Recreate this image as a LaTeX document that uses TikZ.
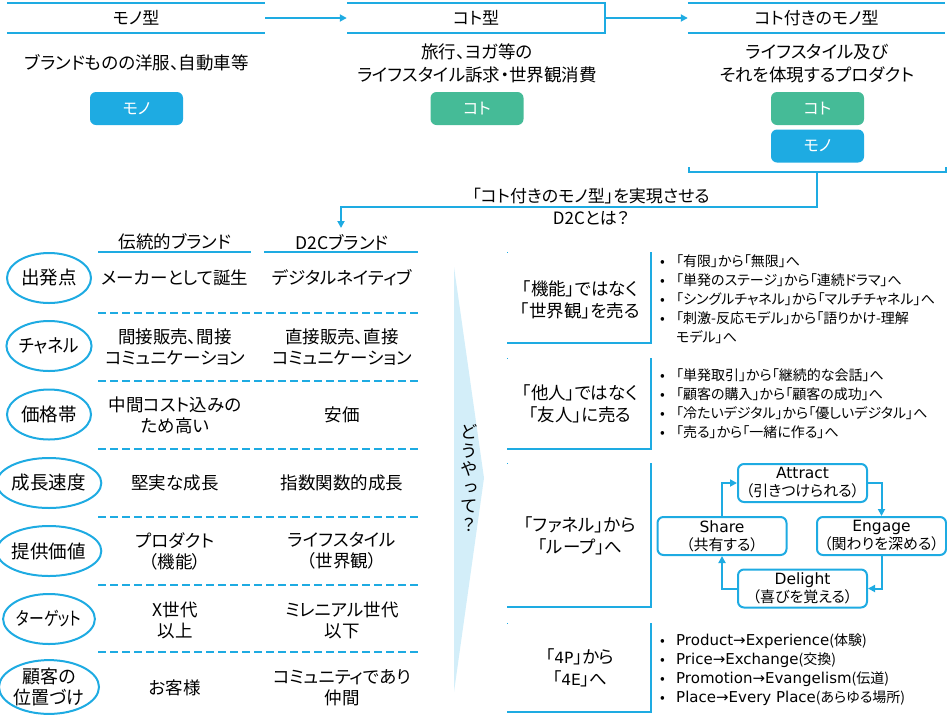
\documentclass[tikz,border=0pt]{standalone}
\usepackage{fontspec}
\usepackage{graphicx}
\setmainfont{Noto Sans CJK JP}[RawFeature=+palt]
\newfontfamily\lat{DejaVu Sans}
\newfontfamily\vertfont{Noto Sans CJK JP}[RawFeature=+vert]
\usetikzlibrary{arrows.meta,shapes.geometric}
\definecolor{cblue}{HTML}{1EABE2}
\definecolor{cgreen}{HTML}{45BB97}
\definecolor{cfill}{HTML}{D3EEF9}
\tikzset{
  bl/.style={draw=cblue,line width=2pt},
  arr/.style={draw=cblue,line width=2pt,-{Triangle[length=7pt,width=7pt]}},
  hdr/.style={minimum width=258pt,minimum height=30pt,inner sep=0pt,font=\fontsize{17}{20}\selectfont},
  toptxt/.style={align=center,inner sep=0pt,font=\fontsize{17.5}{23}\selectfont},
  pill/.style={fill=#1,rounded corners=6pt,minimum width=93pt,minimum height=33pt,inner sep=0pt,text=white,font=\fontsize{16}{19}\selectfont},
  oval/.style={ellipse,draw=cblue,line width=2pt,minimum width=84pt,minimum height=50pt,inner sep=0pt,align=center,font=\fontsize{18.5}{21}\selectfont},
  cell/.style={align=center,inner sep=0pt,font=\fontsize{17.5}{21}\selectfont},
  colhd/.style={inner sep=0pt,font=\fontsize{17.5}{21}\selectfont},
  sep/.style={draw=cblue,line width=2pt,dash pattern=on 8pt off 4pt},
  blab/.style={align=center,inner sep=0pt,font=\fontsize{17.5}{22}\selectfont},
  blist/.style={align=left,inner sep=0pt,anchor=west,font=\fontsize{14}{19}\selectfont},
  loopbox/.style={draw=cblue,line width=2pt,rounded corners=6pt,minimum width=129pt,minimum height=38pt,inner sep=0pt,align=center,font=\fontsize{15}{18}\selectfont},
}
\newcommand\bul{\makebox[16pt][l]{•}}
\newcommand\lw[1]{{\lat\fontsize{15.5}{18}\selectfont #1}}
\newcommand\lb[1]{{\lat\fontsize{15}{19}\selectfont #1}}
\newcommand\sq[2]{\scalebox{#1}[1]{#2}}
\begin{document}
\begin{tikzpicture}[x=1pt,y=-1pt]
\path[use as bounding box] (0,0) rectangle (947,721);
% ---------- top row ----------
\node[hdr] (h1) at (136,18) {モノ型};
\node[hdr] (h2) at (476,18) {コト型};
\node[hdr,minimum width=257pt] (h3) at (816.5,18) {コト付きのモノ型};
\draw[bl] (h1.north west) -- (h1.north east);
\draw[bl] (h1.south west) -- (h1.south east);
\draw[bl] (h2.north west) -- (h2.north east) -- (h2.south east) -- (h2.south west);
\draw[bl] (h3.north west) -- (h3.north east);
\draw[bl] (h3.south west) -- (h3.south east);
\draw[arr] (h1.east) -- (h2.west);
\draw[arr] (h2.east) -- (h3.west);

\node[toptxt] (t1) at (137,63) {ブランドものの洋服、自動車等};
\node[toptxt] (t2) at (477,63.5) {旅行、ヨガ等の\\ライフスタイル訴求・世界観消費};
\node[toptxt] (t3) at (817,63.5) {ライフスタイル及び\\それを体現するプロダクト};

\node[pill=cblue] (m1) at (136.5,108.5) {モノ};
\node[pill=cgreen] (k2) at (477,108.5) {コト};
\node[pill=cgreen] (k3) at (817.5,108.5) {コト};
\node[pill=cblue] (m3) at (817.5,146) {モノ};

\draw[bl] (689,167) -- (689,172) -- (946,172) -- (946,167);
\coordinate (bmid) at (817,172);
\coordinate (tabtop) at (341,228);
\draw[arr] (bmid) -- (817,206.5) -- (341,206.5) -- (tabtop);
\node[align=center,inner sep=0pt,font=\fontsize{17}{22}\selectfont] (q) at (591,207) {「コト付きのモノ型」を実現させる\\D2Cとは？};

% ---------- left table ----------
\node[colhd] (c1) at (175,242) {伝統的ブランド};
\node[colhd] (c2) at (342,242) {D2Cブランド};
\draw[bl] (98,252) -- (251,252);
\draw[bl] (264,252) -- (418,252);

\foreach \y in {313,381,449,517,585,652} {\draw[sep] (98,\y) -- (418,\y);}

\node[oval] (r1) at (49,278) {出発点};
\node[oval] (r2) at (49,346) {\sq{0.9}{チャネル}};
\node[oval] (r3) at (49,414.5) {価格帯};
\node[oval] (r4) at (49,483) {成長速度};
\node[oval] (r5) at (49,551) {提供価値};
\node[oval] (r6) at (49,619) {\sq{0.8}{ターゲット}};
\node[oval] (r7) at (49,687) {\sq{0.97}{顧客の}\\\sq{0.97}{位置づけ}};

\node[cell] (a1) at (175,278) {メーカーとして誕生};
\node[cell] (b1) at (342,278) {デジタルネイティブ};
\node[cell] (a2) at (175,347) {間接販売、間接\\コミュニケーション};
\node[cell] (b2) at (342,347) {直接販売、直接\\コミュニケーション};
\node[cell] (a3) at (175,415) {中間コスト込みの\\ため高い};
\node[cell] (b3) at (342,415) {安価};
\node[cell] (a4) at (175,483) {堅実な成長};
\node[cell] (b4) at (342,483) {指数関数的成長};
\node[cell] (a5) at (175,551) {プロダクト\\（機能）};
\node[cell] (b5) at (342,551) {ライフスタイル\\（世界観）};
\node[cell] (a6) at (175,620) {X世代\\以上};
\node[cell] (b6) at (342,620) {ミレニアル世代\\以下};
\node[cell] (a7) at (175,688) {お客様};
\node[cell] (b7) at (342,688) {コミュニティであり\\仲間};

% ---------- chevron ----------
\fill[cfill] (454,267) -- (484,478) -- (454,692) -- cycle;
\node[align=center,inner sep=0pt,font=\vertfont\fontsize{17.5}{18.5}\selectfont] (how) at (469,478) {ど\\う\\や\\っ\\て\\？};

% ---------- right blocks ----------
\foreach \t/\b in {252/343,358/449,463/607,623/712} {
  \draw[bl] (651,\t) -- (651,\b) -- (507,\b);
  \fill[cblue] (506.5,\t-0.5) rectangle (507.5,\t+0.5);
}
\node[blab] (l1) at (580,300) {「機能」ではなく\\「世界観」を売る};
\node[blab] (l2) at (580,404) {「他人」ではなく\\「友人」に売る};
\node[blab] (l3) at (580,536) {「ファネル」から\\「ループ」へ};
\node[blab] (l4) at (580,668) {「\lw{4P}」から\\「\lw{4E}」へ};

\node[blist] (p1) at (660,299.5) {\bul「有限」から「無限」へ\\\bul「単発のステージ」から「連続ドラマ」へ\\\bul「シングルチャネル」から「マルチチャネル」へ\\\bul「刺激-反応モデル」から「語りかけ-理解\\\hspace*{16pt}モデル」へ};
\node[blist] (p2) at (660,404) {\bul「単発取引」から「継続的な会話」へ\\\bul「顧客の購入」から「顧客の成功」へ\\\bul「冷たいデジタル」から「優しいデジタル」へ\\\bul「売る」から「一緒に作る」へ};
\node[blist] (p4) at (660,669.5) {\bul\lb{Product→Experience}(体験)\\\bul\lb{Price→Exchange}(交換)\\\bul\lb{Promotion→Evangelism}(伝道)\\\bul\lb{Place→Every Place}(あらゆる場所)};

% ---------- loop ----------
\node[loopbox] (att) at (802.5,483) {\lw{Attract}\\（引きつけられる）};
\node[loopbox] (sha) at (722,536) {\lw{Share}\\（共有する）};
\node[loopbox] (eng) at (881.5,536) {\lw{Engage}\\（関わりを深める）};
\node[loopbox] (del) at (802.5,588.5) {\lw{Delight}\\（喜びを覚える）};
\draw[arr] (att.east) -| (eng.north);
\draw[arr] (eng.south) |- (del.east);
\draw[arr] (del.west) -| (sha.south);
\draw[arr] (sha.north) |- (att.west);
\end{tikzpicture}
\end{document}
